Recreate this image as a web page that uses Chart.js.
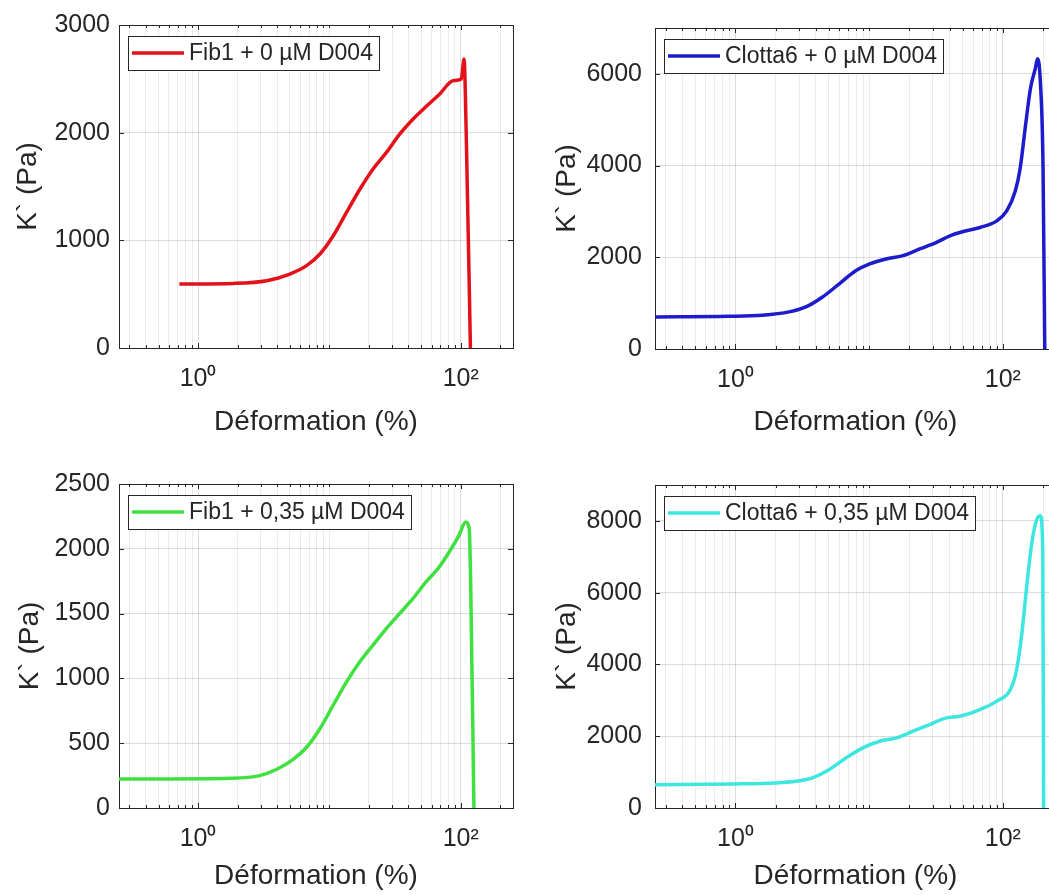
<!DOCTYPE html>
<html>
<head>
<meta charset="utf-8">
<script src="https://cdn.jsdelivr.net/npm/chart.js@4/dist/chart.umd.min.js"></script>
<style>
    html, body { margin: 0; padding: 0; background: #fff; overflow: hidden; width: 1049px; height: 895px; }
    .panel { position: absolute; }
</style>
</head>
<body>
<div class="panel" style="left:0;top:0"><canvas id="c1" width="530" height="450"></canvas></div>
<div class="panel" style="left:530px;top:0"><canvas id="c2" width="530" height="450"></canvas></div>
<div class="panel" style="left:0;top:450px"><canvas id="c3" width="530" height="445"></canvas></div>
<div class="panel" style="left:530px;top:450px"><canvas id="c4" width="530" height="445"></canvas></div>
<script>
// --- data (strain %, K' in Pa) ---
const fib0X = [0.72, 1.86, 3.33, 5.0, 6.7, 8.47, 10.7, 13.5, 17.1, 21.5, 27.2, 34.4, 43.4, 54.8, 69.2, 87.4, 101, 106, 110, 118.5];
const fib0Y = [594, 600, 625, 687, 765, 873, 1043, 1260, 1477, 1663, 1817, 1988, 2127, 2245, 2359, 2483, 2498, 2684, 2013, 0];

const clot0X = [0.25, 0.89, 1.59, 2.52, 3.36, 4.48, 5.98, 7.98, 10.1, 13.4, 17.9, 23.9, 31.9, 40.2, 50.6, 67.6, 90.2, 107, 124, 135, 147, 161, 175, 182, 191, 200, 206];
const clot0Y = [700, 712, 736, 809, 917, 1134, 1422, 1711, 1856, 1964, 2036, 2181, 2325, 2469, 2563, 2650, 2794, 3011, 3444, 3949, 4816, 5682, 6116, 6332, 5827, 3949, 0];

const fib35X = [0.25, 1.84, 2.94, 3.94, 5.27, 6.65, 8.4, 10.6, 13.4, 16.9, 21.3, 26.9, 34, 43, 54.2, 68.4, 81.5, 97, 109, 116, 119, 126];
const fib35Y = [224, 230, 250, 297, 374, 465, 606, 787, 968, 1123, 1252, 1381, 1497, 1613, 1742, 1858, 1974, 2103, 2206, 2155, 1742, 0];

const clot35X = [0.25, 1, 2, 2.83, 3.77, 5.03, 6.71, 8.96, 12, 16, 21.3, 28.4, 37.9, 47.8, 67.6, 90.2, 114, 127, 139, 152, 165, 180, 191, 199, 202];
const clot35Y = [651, 670, 698, 744, 837, 1070, 1395, 1674, 1860, 1953, 2140, 2326, 2512, 2558, 2744, 2977, 3302, 3860, 4884, 6279, 7395, 8047, 8140, 7209, 0];

// axis ticks
const xTicks = [0.3, 0.4, 0.5, 0.6, 0.7, 0.8, 0.9, 1, 2, 3, 4, 5, 6, 7, 8, 9, 10, 20, 30, 40, 50, 60, 70, 80, 90, 100, 200];
const xLabelVals = [1, 100];
const xLabelText = ['10\u2070', '10\u00B2'];
const fib0YTicks = [0, 1000, 2000, 3000];
const clot0YTicks = [0, 2000, 4000, 6000];
const fib35YTicks = [0, 500, 1000, 1500, 2000, 2500];
const clot35YTicks = [0, 2000, 4000, 6000, 8000];

const FONT = "'Liberation Sans', Arial, sans-serif";
const INK = '#262626';

function toPoints(xs, ys) {
    return xs.map((x, i) => ({ x: x, y: ys[i] }));
}

// MATLAB-like box with inward ticks
const framePlugin = {
    id: 'frame',
    beforeDatasetsDraw(chart) {
        const { ctx, chartArea: a, scales } = chart;
        ctx.save();
        ctx.strokeStyle = INK;
        ctx.lineWidth = 1;
        ctx.beginPath();
        scales.x.ticks.forEach(t => {
            const px = Math.round(scales.x.getPixelForValue(t.value)) + 0.5;
            const len = xLabelVals.includes(t.value) ? 5 : 3;
            ctx.moveTo(px, a.bottom); ctx.lineTo(px, a.bottom - len);
            ctx.moveTo(px, a.top); ctx.lineTo(px, a.top + len);
        });
        scales.y.ticks.forEach(t => {
            const py = Math.round(scales.y.getPixelForValue(t.value)) + 0.5;
            ctx.moveTo(a.left, py); ctx.lineTo(a.left + 5, py);
            ctx.moveTo(a.right, py); ctx.lineTo(a.right - 5, py);
        });
        ctx.stroke();
        ctx.strokeRect(Math.round(a.left) + 0.5, Math.round(a.top) + 0.5, Math.round(a.right - a.left), Math.round(a.bottom - a.top));
        ctx.restore();
    }
};

// boxed legend in the top-left corner of the axes
const boxLegendPlugin = {
    id: 'boxLegend',
    afterDatasetsDraw(chart) {
        const { ctx, chartArea: a } = chart;
        const ds = chart.data.datasets[0];
        ctx.save();
        ctx.font = '23px ' + FONT;
        const tw = ctx.measureText(ds.label).width;
        const x0 = a.left + 9, y0 = a.top + 11, h = 34;
        const w = 4 + 52 + 5 + tw + 6;
        ctx.fillStyle = '#fff';
        ctx.fillRect(x0, y0, w, h);
        ctx.strokeStyle = INK;
        ctx.lineWidth = 1;
        ctx.strokeRect(Math.round(x0) + 0.5, Math.round(y0) + 0.5, Math.round(w), h);
        ctx.strokeStyle = ds.borderColor;
        ctx.lineWidth = ds.borderWidth;
        ctx.beginPath();
        ctx.moveTo(x0 + 4, y0 + h / 2);
        ctx.lineTo(x0 + 56, y0 + h / 2);
        ctx.stroke();
        ctx.fillStyle = INK;
        ctx.textBaseline = 'middle';
        ctx.fillText(ds.label, x0 + 61, y0 + h / 2 + 1);
        ctx.restore();
    }
};

function makeChart(id, label, color, xs, ys, yMax, yTicks, lay) {
    return new Chart(document.getElementById(id), {
        type: 'line',
        data: {
            datasets: [{
                label: label,
                data: toPoints(xs, ys),
                borderColor: color,
                borderWidth: 3.5,
                pointRadius: 0,
                fill: false,
                cubicInterpolationMode: 'monotone'
            }]
        },
        options: {
            responsive: false,
            animation: false,
            layout: { padding: { left: 0, top: lay.top, right: lay.right, bottom: 0 } },
            plugins: { legend: { display: false }, tooltip: { enabled: false } },
            scales: {
                x: {
                    type: 'logarithmic',
                    min: 0.25,
                    max: 250,
                    afterBuildTicks: s => { s.ticks = xTicks.map(v => ({ value: v })); },
                    afterFit: s => { s.height = lay.xH; },
                    grid: {
                        drawTicks: false,
                        color: c => xLabelVals.includes(c.tick.value) ? 'rgba(38,38,38,0.16)' : 'rgba(38,38,38,0.09)'
                    },
                    border: { display: false },
                    ticks: {
                        autoSkip: false,
                        maxRotation: 0,
                        padding: 16,
                        color: INK,
                        font: { family: FONT, size: 25 },
                        callback: v => {
                            const i = xLabelVals.indexOf(v);
                            return i >= 0 ? xLabelText[i] : '';
                        }
                    },
                    title: {
                        display: true,
                        text: 'Déformation (%)',
                        color: INK,
                        font: { family: FONT, size: 28 },
                        padding: { top: 0, bottom: lay.xTitlePad }
                    }
                },
                y: {
                    min: 0,
                    max: yMax,
                    afterBuildTicks: s => { s.ticks = yTicks.map(v => ({ value: v })); },
                    afterFit: s => { s.width = lay.yW; },
                    grid: { drawTicks: false, color: 'rgba(38,38,38,0.16)' },
                    border: { display: false },
                    ticks: {
                        padding: lay.yTickPad,
                        color: INK,
                        font: { family: FONT, size: 25 },
                        callback: v => String(v)
                    },
                    title: {
                        display: true,
                        text: 'K` (Pa)',
                        color: INK,
                        font: { family: FONT, size: 28 },
                        padding: { top: lay.yTitlePad, bottom: 0 }
                    }
                }
            }
        },
        plugins: [framePlugin, boxLegendPlugin]
    });
}

makeChart('c1', 'Fib1 + 0 µM D004', '#e3121a', fib0X, fib0Y, 3000, fib0YTicks,
    { top: 25, right: 17, xH: 102, yW: 119, xTitlePad: 11, yTickPad: 9, yTitlePad: 11 });
makeChart('c2', 'Clotta6 + 0 µM D004', '#1c1ccc', clot0X, clot0Y, 7000, clot0YTicks,
    { top: 25, right: 4, xH: 101, yW: 125, xTitlePad: 11, yTickPad: 13, yTitlePad: 20 });
makeChart('c3', 'Fib1 + 0,35 µM D004', '#3fe03f', fib35X, fib35Y, 2500, fib35YTicks,
    { top: 34, right: 17, xH: 87, yW: 119, xTitlePad: 2, yTickPad: 9, yTitlePad: 13 });
makeChart('c4', 'Clotta6 + 0,35 µM D004', '#3ee6e0', clot35X, clot35Y, 9000, clot35YTicks,
    { top: 35, right: 4, xH: 87, yW: 125, xTitlePad: 2, yTickPad: 13, yTitlePad: 20 });
</script>
</body>
</html>
